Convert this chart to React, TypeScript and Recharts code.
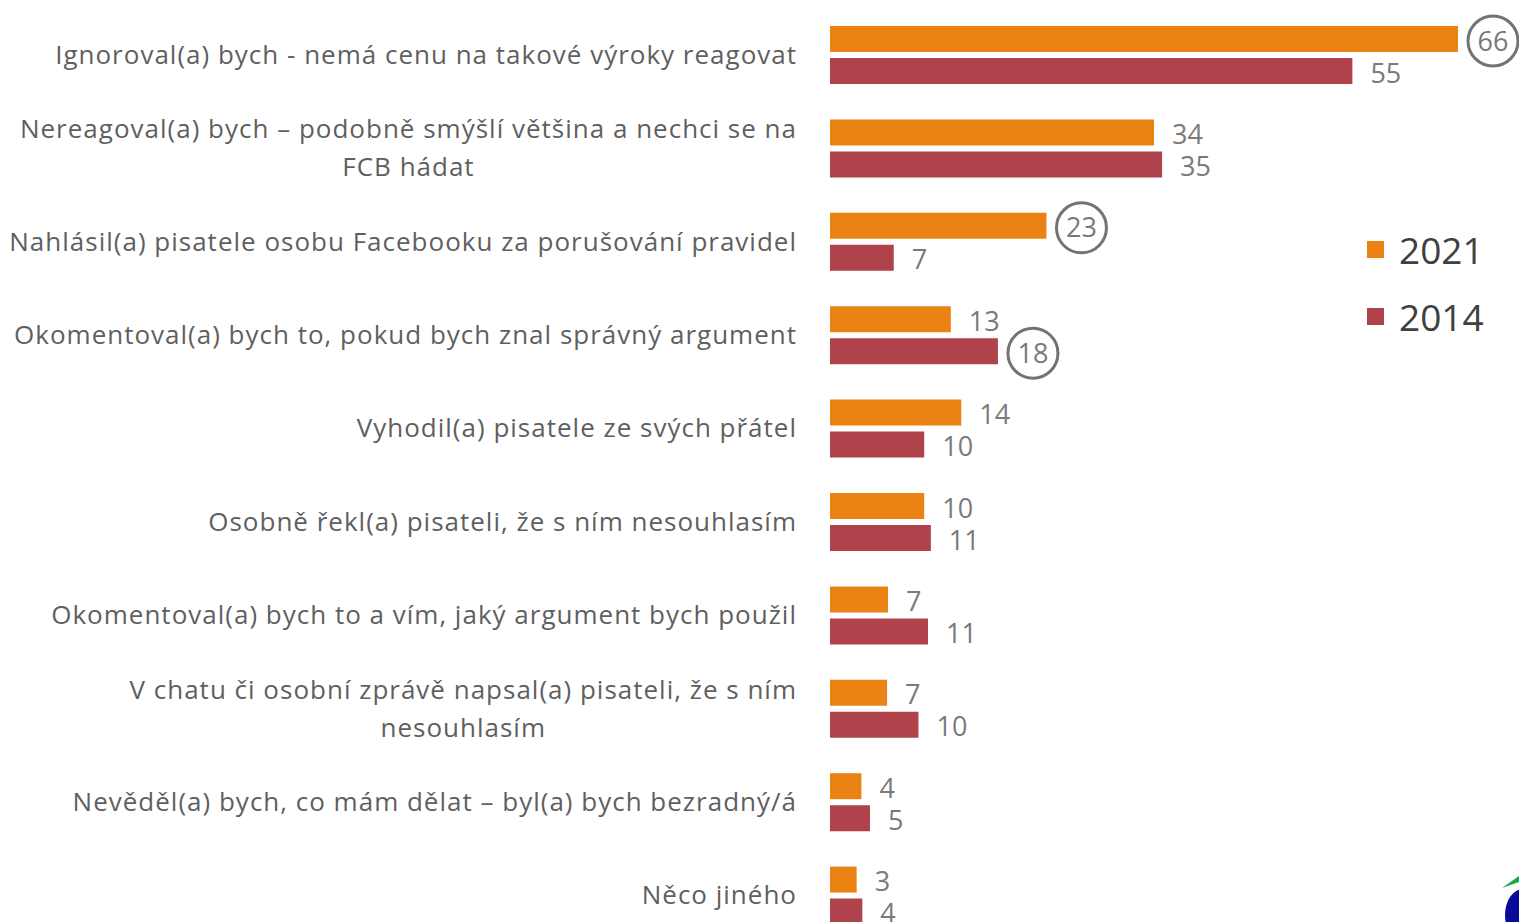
import { BarChart, Bar, XAxis, YAxis, Legend, LabelList } from 'recharts';

// categories (explicit line breaks follow the original wrapping)
const categories = [
    'Ignoroval(a) bych - nemá cenu na takové výroky reagovat',
    'Nereagoval(a) bych – podobně smýšlí většina a nechci se na\nFCB hádat',
    'Nahlásil(a) pisatele osobu Facebooku za porušování pravidel',
    'Okomentoval(a) bych to, pokud bych znal správný argument',
    'Vyhodil(a) pisatele ze svých přátel',
    'Osobně řekl(a) pisateli, že s ním nesouhlasím',
    'Okomentoval(a) bych to a vím, jaký argument bych použil',
    'V chatu či osobní zprávě napsal(a) pisateli, že s ním\nnesouhlasím',
    'Nevěděl(a) bych, co mám dělat – byl(a) bych bezradný/á',
    'Něco jiného',
];

// bar lengths
const values2021 = [66, 34.05, 22.75, 12.7, 13.8, 9.9, 6.1, 6.0, 3.3, 2.8];
const values2014 = [54.9, 34.9, 6.7, 17.65, 9.9, 10.6, 10.3, 9.3, 4.2, 3.4];

// printed labels
const labels2021 = ['66', '34', '23', '13', '14', '10', '7', '7', '4', '3'];
const labels2014 = ['55', '35', '7', '18', '10', '11', '11', '10', '5', '4'];

// values ringed in the original
const circled2021 = [true, false, true, false, false, false, false, false, false, false];
const circled2014 = [false, false, false, true, false, false, false, false, false, false];

const series = [
    { key: 'y2021', name: '2021', color: '#EA8313' },
    { key: 'y2014', name: '2014', color: '#AF424A' },
];

const data = categories.map((c, i) => ({
    label: c,
    y2021: values2021[i],
    y2014: values2014[i],
}));

const FONT = "'Open Sans', sans-serif";

const CategoryTick = (props: any) => {
    const { x, y, payload } = props;
    return (
        <foreignObject x={x - 800} y={y - 51} width={801} height={100}>
            <div
                style={{
                    display: 'flex',
                    height: '100%',
                    alignItems: 'center',
                    justifyContent: 'flex-end',
                    fontFamily: FONT,
                    fontSize: 26,
                    letterSpacing: 1,
                    color: '#5f5f5f',
                }}
            >
                <div style={{ textAlign: 'center', whiteSpace: 'pre-line', lineHeight: '38px' }}>
                    {payload.value}
                </div>
            </div>
        </foreignObject>
    );
};

const makeLabel = (texts: string[], rings: boolean[]) => (props: any) => {
    const { x, y, width, height, index } = props;
    const end = Number(x) + Number(width);
    const cy = Number(y) + Number(height) / 2;
    if (rings[index]) {
        const cx = end + 35;
        return (
            <g>
                <circle cx={cx} cy={cy + 2} r={25} fill="none" stroke="#737373" strokeWidth={3} />
                <text x={cx} y={cy + 1} textAnchor="middle" dominantBaseline="central"
                    fontFamily={FONT} fontSize={27} fill="#7a7a7a">
                    {texts[index]}
                </text>
            </g>
        );
    }
    return (
        <text x={end + 18} y={cy + 1} dominantBaseline="central"
            fontFamily={FONT} fontSize={27} fill="#7a7a7a">
            {texts[index]}
        </text>
    );
};

const LegendBox = () => (
    <div style={{ fontFamily: FONT }}>
        {series.map(s => (
            <div key={s.key} style={{ display: 'flex', alignItems: 'center', height: 67 }}>
                <span style={{ width: 17, height: 17, background: s.color, marginRight: 15 }} />
                <span style={{ fontSize: 37, color: '#404040' }}>{s.name}</span>
            </div>
        ))}
    </div>
);

export default function App() {
    return (
        <div style={{ position: 'absolute', top: 0, left: 0, width: 1519, height: 922, overflow: 'hidden', background: '#fff' }}>
            <BarChart
                layout="vertical"
                width={1519}
                height={950}
                data={data}
                margin={{ top: 8, right: 61, bottom: 8, left: 0 }}
                barSize={26}
                barGap={6}
            >
                <XAxis type="number" domain={[0, 66]} hide />
                <YAxis
                    type="category"
                    dataKey="label"
                    width={830}
                    axisLine={false}
                    tickLine={false}
                    tickSize={0}
                    tickMargin={34}
                    interval={0}
                    tick={<CategoryTick />}
                />
                <Legend
                    layout="vertical"
                    verticalAlign="middle"
                    align="center"
                    content={<LegendBox />}
                    wrapperStyle={{ position: 'absolute', left: 1367, top: 216, width: 150 }}
                />
                <Bar dataKey="y2021" name="2021" fill={series[0].color} isAnimationActive={false}>
                    <LabelList dataKey="y2021" content={makeLabel(labels2021, circled2021)} />
                </Bar>
                <Bar dataKey="y2014" name="2014" fill={series[1].color} isAnimationActive={false}>
                    <LabelList dataKey="y2014" content={makeLabel(labels2014, circled2014)} />
                </Bar>
            </BarChart>
            {/* corner of the logo, cut off by the frame */}
            <svg style={{ position: 'absolute', left: 1490, top: 870 }} width={29} height={52}>
                <path d="M12 18 L29 6 L29 12 Z" fill="#1aa64a" />
                <ellipse cx={33} cy={45} rx={18} ry={26} fill="#0a0a9a" />
            </svg>
        </div>
    );
}
